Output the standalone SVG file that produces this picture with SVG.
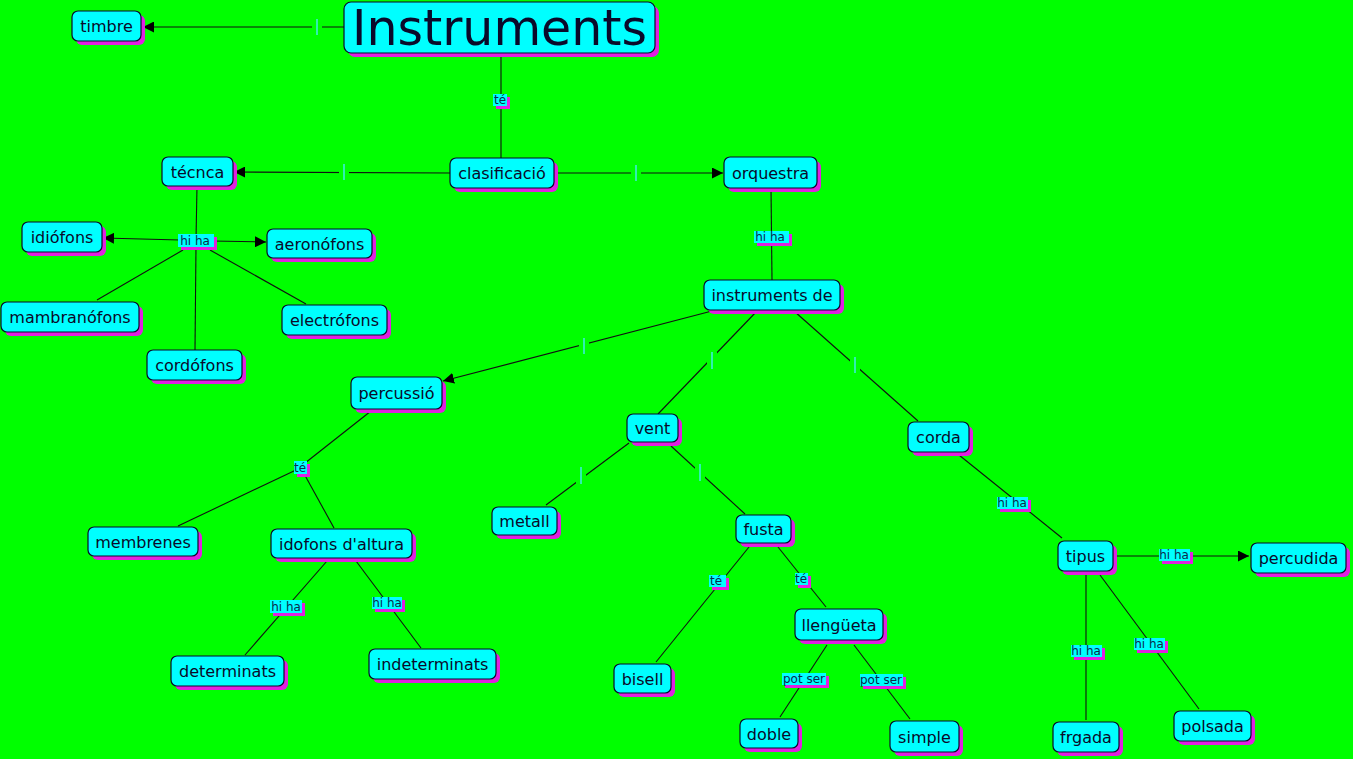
<svg xmlns="http://www.w3.org/2000/svg" width="1353" height="759" viewBox="0 0 1353 759">
<style>
.n rect.b{fill:#00ffff;stroke:#0a0a2a;stroke-width:1.2}
.n rect.s{fill:#e020e0}
.n text{font-family:"DejaVu Sans",Verdana,sans-serif;font-size:16px;fill:#0a0a2a;text-anchor:middle}
.c line{stroke:#111;stroke-width:1.1}
.lb rect.b{fill:#00ffff}
.lb rect.s{fill:#e020e0}
.lb text{font-family:"DejaVu Sans",Verdana,sans-serif;font-size:12px;fill:#0a2a4a;text-anchor:middle}
.gap{fill:#00ff00}
.bar{fill:#30f0b0}
</style>
<defs>
<marker id="ar" viewBox="0 0 10 10" refX="10" refY="5" markerWidth="11" markerHeight="11" markerUnits="userSpaceOnUse" orient="auto">
<path d="M0,0 L10,5 L0,10 z" fill="#000"/>
</marker>
</defs>
<rect width="1353" height="759" fill="#00ff00"/>
<g id="connectors" class="c">
<line x1="344" y1="27" x2="143" y2="27" marker-end="url(#ar)"/>
<line x1="501" y1="53" x2="501" y2="158"/>
<line x1="450" y1="173" x2="234" y2="172" marker-end="url(#ar)"/>
<line x1="554" y1="173" x2="723" y2="173" marker-end="url(#ar)"/>
<line x1="197" y1="186" x2="196" y2="240"/>
<line x1="180" y1="240" x2="103" y2="238" marker-end="url(#ar)"/>
<line x1="212" y1="241" x2="266" y2="242" marker-end="url(#ar)"/>
<line x1="183" y1="250" x2="97" y2="300"/>
<line x1="210" y1="250" x2="306" y2="304"/>
<line x1="196" y1="246" x2="195" y2="350"/>
<line x1="771" y1="188" x2="772" y2="280"/>
<line x1="712" y1="311" x2="443" y2="381" marker-end="url(#ar)"/>
<line x1="757" y1="311" x2="658" y2="414"/>
<line x1="794" y1="311" x2="918" y2="421"/>
<line x1="371" y1="411" x2="300" y2="467"/>
<line x1="296" y1="470" x2="178" y2="526"/>
<line x1="302" y1="470" x2="334" y2="528"/>
<line x1="327" y1="561" x2="245" y2="655"/>
<line x1="356" y1="561" x2="421" y2="648"/>
<line x1="629" y1="443" x2="546" y2="505"/>
<line x1="671" y1="446" x2="745" y2="514"/>
<line x1="749" y1="547" x2="656" y2="662"/>
<line x1="778" y1="547" x2="826" y2="607"/>
<line x1="827" y1="645" x2="780" y2="717"/>
<line x1="854" y1="645" x2="910" y2="719"/>
<line x1="959" y1="455" x2="1062" y2="538"/>
<line x1="1114" y1="556" x2="1249" y2="556" marker-end="url(#ar)"/>
<line x1="1086" y1="575" x2="1086" y2="720"/>
<line x1="1100" y1="575" x2="1199" y2="709"/>
<g>
<rect class="gap" x="312" y="19" width="10" height="16"/><rect class="bar" x="316" y="19" width="2" height="16"/>
<rect class="gap" x="339" y="164" width="10" height="16"/><rect class="bar" x="343" y="164" width="2" height="16"/>
<rect class="gap" x="631" y="165" width="10" height="16"/><rect class="bar" x="635" y="165" width="2" height="16"/>
<rect class="gap" x="579" y="338" width="10" height="16"/><rect class="bar" x="583" y="338" width="2" height="16"/>
<rect class="gap" x="707" y="352" width="10" height="17"/><rect class="bar" x="711" y="352" width="2" height="17"/>
<rect class="gap" x="850" y="357" width="10" height="16"/><rect class="bar" x="854" y="357" width="2" height="16"/>
<rect class="gap" x="576" y="467" width="10" height="17"/><rect class="bar" x="580" y="467" width="2" height="17"/>
<rect class="gap" x="695" y="464" width="10" height="17"/><rect class="bar" x="699" y="464" width="2" height="17"/>
</g>
<g class="lb">
<rect class="s" x="496" y="97" width="14" height="12"/><rect class="b" x="493" y="94" width="14" height="12"/><text x="500" y="104">té</text>
<rect class="s" x="181" y="237" width="36" height="13"/><rect class="b" x="178" y="234" width="36" height="13"/><text x="195" y="245">hi ha</text>
<rect class="s" x="757" y="234" width="35" height="12"/><rect class="b" x="754" y="231" width="35" height="12"/><text x="770" y="241">hi ha</text>
<rect class="s" x="297" y="464" width="13" height="13"/><rect class="b" x="294" y="461" width="13" height="13"/><text x="300" y="472">té</text>
<rect class="s" x="273" y="603" width="32" height="13"/><rect class="b" x="270" y="600" width="32" height="13"/><text x="286" y="611">hi ha</text>
<rect class="s" x="375" y="600" width="30" height="12"/><rect class="b" x="372" y="597" width="30" height="12"/><text x="387" y="607">hi ha</text>
<rect class="s" x="712" y="578" width="17" height="12"/><rect class="b" x="709" y="575" width="17" height="12"/><text x="716" y="585">té</text>
<rect class="s" x="798" y="576" width="13" height="12"/><rect class="b" x="795" y="573" width="13" height="12"/><text x="801" y="583">té</text>
<rect class="s" x="785" y="676" width="44" height="12"/><rect class="b" x="782" y="673" width="44" height="12"/><text x="804" y="683">pot ser</text>
<rect class="s" x="863" y="677" width="43" height="12"/><rect class="b" x="860" y="674" width="43" height="12"/><text x="881" y="684">pot ser</text>
<rect class="s" x="1000" y="500" width="31" height="12"/><rect class="b" x="997" y="497" width="31" height="12"/><text x="1012" y="507">hi ha</text>
<rect class="s" x="1162" y="552" width="31" height="12"/><rect class="b" x="1159" y="549" width="31" height="12"/><text x="1174" y="559">hi ha</text>
<rect class="s" x="1074" y="648" width="31" height="12"/><rect class="b" x="1071" y="645" width="31" height="12"/><text x="1086" y="655">hi ha</text>
<rect class="s" x="1137" y="641" width="31" height="12"/><rect class="b" x="1134" y="638" width="31" height="12"/><text x="1149" y="648">hi ha</text>
</g>
</g>
<g id="n-timbre" class="n"><rect class="s" x="76" y="15" width="69" height="30" rx="6"/><rect class="b" x="72" y="11" width="69" height="30" rx="6"/><text x="106.5" y="32">timbre</text></g>
<g id="n-instruments" class="n"><rect class="s" x="348" y="6" width="311" height="51" rx="7"/><rect class="b" x="344" y="2" width="311" height="51" rx="7"/><text x="499.5" y="45" style="font-size:49px">Instruments</text></g>
<g id="n-clasificacio" class="n"><rect class="s" x="454" y="162" width="104" height="30" rx="6"/><rect class="b" x="450" y="158" width="104" height="30" rx="6"/><text x="502" y="179">clasificació</text></g>
<g id="n-tecnca" class="n"><rect class="s" x="166" y="161" width="71" height="29" rx="6"/><rect class="b" x="162" y="157" width="71" height="29" rx="6"/><text x="197.5" y="177.5">técnca</text></g>
<g id="n-orquestra" class="n"><rect class="s" x="728" y="161" width="93" height="31" rx="6"/><rect class="b" x="724" y="157" width="93" height="31" rx="6"/><text x="770.5" y="178.5">orquestra</text></g>
<g id="n-idiofons" class="n"><rect class="s" x="26" y="226" width="80" height="30" rx="6"/><rect class="b" x="22" y="222" width="80" height="30" rx="6"/><text x="62" y="243">idiófons</text></g>
<g id="n-aeronofons" class="n"><rect class="s" x="271" y="233" width="105" height="29" rx="6"/><rect class="b" x="267" y="229" width="105" height="29" rx="6"/><text x="319.5" y="249.5">aeronófons</text></g>
<g id="n-mambranofons" class="n"><rect class="s" x="5" y="306" width="138" height="30" rx="6"/><rect class="b" x="1" y="302" width="138" height="30" rx="6"/><text x="70" y="323">mambranófons</text></g>
<g id="n-electrofons" class="n"><rect class="s" x="286" y="309" width="105" height="30" rx="6"/><rect class="b" x="282" y="305" width="105" height="30" rx="6"/><text x="334.5" y="326">electrófons</text></g>
<g id="n-cordofons" class="n"><rect class="s" x="151" y="354" width="95" height="30" rx="6"/><rect class="b" x="147" y="350" width="95" height="30" rx="6"/><text x="194.5" y="371">cordófons</text></g>
<g id="n-instrumentsde" class="n"><rect class="s" x="708" y="284" width="136" height="30" rx="6"/><rect class="b" x="704" y="280" width="136" height="30" rx="6"/><text x="772" y="301">instruments de</text></g>
<g id="n-percussio" class="n"><rect class="s" x="355" y="381" width="91" height="32" rx="6"/><rect class="b" x="351" y="377" width="91" height="32" rx="6"/><text x="396.5" y="399">percussió</text></g>
<g id="n-vent" class="n"><rect class="s" x="631" y="418" width="51" height="28" rx="6"/><rect class="b" x="627" y="414" width="51" height="28" rx="6"/><text x="652.5" y="434">vent</text></g>
<g id="n-corda" class="n"><rect class="s" x="912" y="426" width="61" height="30" rx="6"/><rect class="b" x="908" y="422" width="61" height="30" rx="6"/><text x="938.5" y="443">corda</text></g>
<g id="n-membrenes" class="n"><rect class="s" x="92" y="531" width="110" height="29" rx="6"/><rect class="b" x="88" y="527" width="110" height="29" rx="6"/><text x="143" y="547.5">membrenes</text></g>
<g id="n-idofons" class="n"><rect class="s" x="275" y="533" width="141" height="29" rx="6"/><rect class="b" x="271" y="529" width="141" height="29" rx="6"/><text x="341.5" y="549.5">idofons d'altura</text></g>
<g id="n-metall" class="n"><rect class="s" x="496" y="511" width="65" height="28" rx="6"/><rect class="b" x="492" y="507" width="65" height="28" rx="6"/><text x="524.5" y="527">metall</text></g>
<g id="n-fusta" class="n"><rect class="s" x="740" y="519" width="55" height="28" rx="6"/><rect class="b" x="736" y="515" width="55" height="28" rx="6"/><text x="763.5" y="535">fusta</text></g>
<g id="n-tipus" class="n"><rect class="s" x="1062" y="545" width="55" height="30" rx="6"/><rect class="b" x="1058" y="541" width="55" height="30" rx="6"/><text x="1085.5" y="562">tipus</text></g>
<g id="n-percudida" class="n"><rect class="s" x="1255" y="547" width="95" height="30" rx="6"/><rect class="b" x="1251" y="543" width="95" height="30" rx="6"/><text x="1298.5" y="564">percudida</text></g>
<g id="n-llengueta" class="n"><rect class="s" x="799" y="613" width="88" height="31" rx="6"/><rect class="b" x="795" y="609" width="88" height="31" rx="6"/><text x="839" y="630.5">llengüeta</text></g>
<g id="n-determinats" class="n"><rect class="s" x="175" y="660" width="113" height="30" rx="6"/><rect class="b" x="171" y="656" width="113" height="30" rx="6"/><text x="227.5" y="677">determinats</text></g>
<g id="n-indeterminats" class="n"><rect class="s" x="373" y="653" width="127" height="30" rx="6"/><rect class="b" x="369" y="649" width="127" height="30" rx="6"/><text x="432.5" y="670">indeterminats</text></g>
<g id="n-bisell" class="n"><rect class="s" x="618" y="668" width="57" height="29" rx="6"/><rect class="b" x="614" y="664" width="57" height="29" rx="6"/><text x="642.5" y="684.5">bisell</text></g>
<g id="n-doble" class="n"><rect class="s" x="744" y="723" width="58" height="29" rx="6"/><rect class="b" x="740" y="719" width="58" height="29" rx="6"/><text x="769" y="739.5">doble</text></g>
<g id="n-simple" class="n"><rect class="s" x="894" y="725" width="69" height="31" rx="6"/><rect class="b" x="890" y="721" width="69" height="31" rx="6"/><text x="924.5" y="742.5">simple</text></g>
<g id="n-frgada" class="n"><rect class="s" x="1057" y="726" width="66" height="30" rx="6"/><rect class="b" x="1053" y="722" width="66" height="30" rx="6"/><text x="1086" y="743">frgada</text></g>
<g id="n-polsada" class="n"><rect class="s" x="1178" y="715" width="77" height="30" rx="6"/><rect class="b" x="1174" y="711" width="77" height="30" rx="6"/><text x="1212.5" y="732">polsada</text></g>
</svg>
